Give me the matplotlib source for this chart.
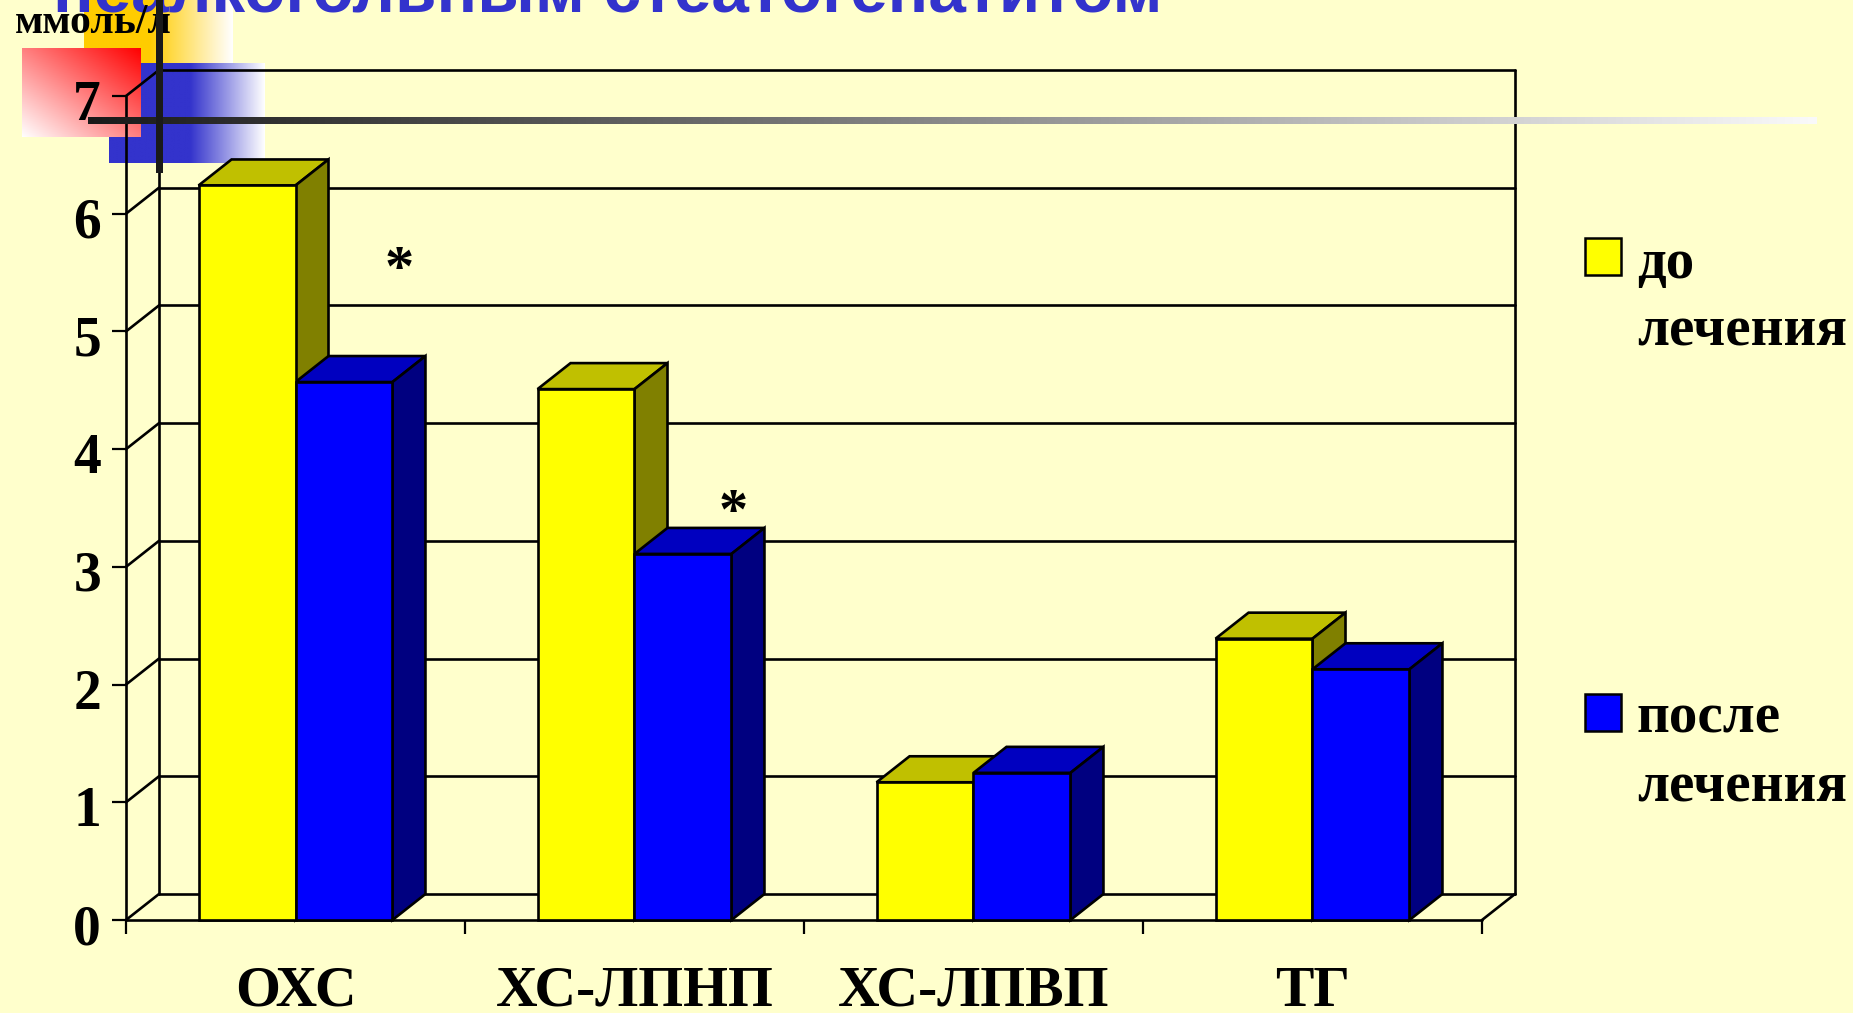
import numpy as np
import matplotlib
matplotlib.use("Agg")
import matplotlib.pyplot as plt
from matplotlib.patches import Rectangle
from matplotlib.transforms import ScaledTranslation

# data
categories = ["ОХС", "ХС-ЛПНП", "ХС-ЛПВП", "ТГ"]
before = [6.24, 4.51, 1.17, 2.39]
after = [4.57, 3.11, 1.25, 2.13]
stars = [(0.805, 5.51), (1.79, 3.45)]  # (category pos, height) of the * marks
y_ticks = [0, 1, 2, 3, 4, 5, 6, 7]
legend_labels = [["до", "лечения"], ["после", "лечения"]]
title = "неалкогольным стеатогепатитом"
unit = "ммоль/л"

# image size and chart frame in pixels
W, H = 1853, 1013
x0, x1 = 126, 1482
y0, y7 = 920, 96
bg = "#FFFFCC"
serif = "Liberation Serif"

# depth of the fake 3d, in data units
dx = 33 / ((x1 - x0) / 4)
dy = 26 / ((y0 - y7) / 7)
bar_w = 0.286

fig = plt.figure(figsize=(W / 100, H / 100), dpi=100, facecolor=bg)

# background layer in pixel coordinates
back = fig.add_axes([0, 0, 1, 1], zorder=1)
back.axis("off")


def gradient(ax, extent, rgb, amount):
    # colour fading to white following the amount array
    col = np.array(matplotlib.colors.to_rgb(rgb))
    img = amount[..., None] * col + (1 - amount[..., None])
    ax.imshow(img, extent=extent, aspect="auto", interpolation="bilinear", zorder=2)


t = np.linspace(0, 1, 200)
gradient(back, (84, 233, 63, 0), "#FFCC00", np.clip((1 - t) / 0.56, 0, 1)[None, :])
gradient(back, (109, 265, 163, 63), "#3333CC", np.clip((1 - t) / 0.48, 0, 1)[None, :])
u, v = np.meshgrid(t, t)
gradient(back, (22, 141, 137, 48), "#FF0000", (u + 1 - v) / 2)
back.set_xlim(0, W)
back.set_ylim(H, 0)

back.text(53, 12, title, color="#3333CC", fontsize=48.5, fontweight="bold",
          family="Liberation Sans", va="baseline", ha="left")
back.text(15, 33, unit, color="black", fontsize=30, fontweight="bold",
          family=serif, va="baseline", ha="left", zorder=5)

# legend
legend_y = [(238, 264, 331), (694, 718, 787)]
for (top, l1, l2), lab, col in zip(legend_y, legend_labels, ["#FFFF00", "#0000FF"]):
    back.add_patch(Rectangle((1585, top), 36, 37, fc=col, ec="black", lw=1.8, zorder=3))
    back.text(1637, l1, lab[0], fontsize=41, fontweight="bold", family=serif, va="center")
    back.text(1637, l2, lab[1], fontsize=41, fontweight="bold", family=serif, va="center")

# chart axes
ax = fig.add_axes([x0 / W, 1 - y0 / H, (x1 - x0) / W, (y0 - y7) / H], zorder=2)
ax.patch.set_alpha(0)
ax.set_xlim(0, 4)
ax.set_ylim(0, 7)
for s in ax.spines.values():
    s.set_visible(False)

line = dict(color="black", lw=1.9, clip_on=False, solid_capstyle="round")
# walls and floor
ax.plot([0, 4], [0, 0], **line)
ax.plot([0, 0], [0, 7], **line)
ax.plot([dx, dx], [dy, 7 + dy], **line)
ax.plot([4 + dx, 4 + dx], [dy, 7 + dy], **line)
ax.plot([4, 4 + dx], [0, dy], **line)
for v in y_ticks:
    ax.plot([0, dx], [v, v + dy], **line)
    ax.plot([dx, 4 + dx], [v + dy, v + dy], **line)

# ticks
ax.set_xticks(range(5))
ax.set_xticklabels([])
ax.set_xticks(np.arange(len(categories)) + 0.5, minor=True)
ax.set_xticklabels(categories, minor=True, fontsize=41.5, fontweight="bold", family=serif)
ax.tick_params(axis="x", which="major", length=10, width=1.6)
ax.tick_params(axis="x", which="minor", length=0, pad=33)
ax.set_yticks(y_ticks)
ax.set_yticklabels(y_ticks, fontsize=40, fontweight="bold", family=serif, va="center")
ax.tick_params(axis="y", length=10, width=1.6, pad=8)
# digits sit a little below their tick in the reference
shift = ScaledTranslation(0, -10 / 100, fig.dpi_scale_trans)
for lab in ax.get_yticklabels():
    lab.set_transform(lab.get_transform() + shift)


def bar3d(left, height, front, top, side):
    right = left + bar_w
    ax.fill([left, left + dx, right + dx, right], [height, height + dy, height + dy, height],
            fc=top, ec="black", lw=1.9, clip_on=False, zorder=3)
    ax.fill([right, right + dx, right + dx, right], [0, dy, height + dy, height],
            fc=side, ec="black", lw=1.9, clip_on=False, zorder=3)
    ax.bar(left, height, bar_w, align="edge", fc=front, ec="black", lw=1.9, clip_on=False, zorder=4)


for i in range(len(categories)):
    c = i + 0.5
    bar3d(c - bar_w, before[i], "#FFFF00", "#C0C000", "#808000")
    bar3d(c, after[i], "#0000FF", "#0000C0", "#000080")

for sx, sy in stars:
    ax.text(sx, sy, "*", fontsize=42, fontweight="bold", family=serif,
            ha="center", va="center", zorder=6)

# thick template lines over everything
over = fig.add_axes([0, 0, 1, 1], zorder=3)
over.patch.set_alpha(0)
over.axis("off")
ramp = np.linspace(0.1, 0.98, 400)
bar_img = np.repeat(ramp[None, :, None], 3, axis=2)
over.imshow(bar_img, extent=(88, 1817, 124.5, 117.5), aspect="auto", interpolation="bilinear")
over.add_patch(Rectangle((156, 0), 6.5, 173, fc="#1A1A1A", ec="none"))
over.set_xlim(0, W)
over.set_ylim(H, 0)

fig.savefig("out.png", dpi=100, facecolor=bg)
